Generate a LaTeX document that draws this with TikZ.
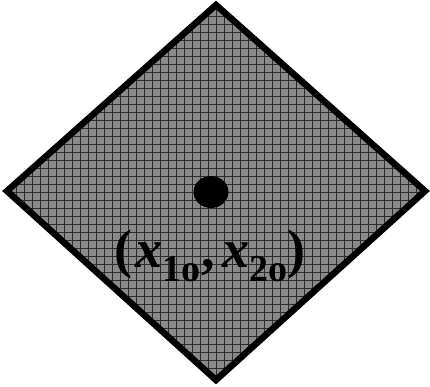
\documentclass[tikz,border=0pt]{standalone}
\usepackage{fontspec}
\setmainfont{Liberation Serif}
\usetikzlibrary{shapes.geometric}
\definecolor{regiongray}{RGB}{138,138,138}
\definecolor{meshgray}{RGB}{45,45,45}
\newcommand{\subidx}[1]{\raisebox{-14pt}{\fontsize{38}{38}\selectfont\bfseries #1}}
\begin{document}
\begin{tikzpicture}[x=1pt,y=-1pt,
  mesh/.style={meshgray,line width=1pt},
  border/.style={draw=black,line width=6.5pt,line join=miter},
  pointdot/.style={ellipse,fill=black,inner sep=0pt,minimum width=35pt,minimum height=32pt}]
  \useasboundingbox (0,0) rectangle (430,386);
  % Corners of the region
  \coordinate (top) at (216,5);
  \coordinate (right) at (425,191);
  \coordinate (bottom) at (216,380);
  \coordinate (left) at (7,191);
  % Shaded region with mesh
  \fill[regiongray] (top) -- (right) -- (bottom) -- (left) -- cycle;
  \begin{scope}
    \clip (top) -- (right) -- (bottom) -- (left) -- cycle;
    \foreach \i in {0,8,...,432} \draw[mesh] (\i,0) -- (\i,386);
    \foreach \j in {0,8,...,384} \draw[mesh] (0,\j) -- (430,\j);
  \end{scope}
  \draw[border] (top) -- (right) -- (bottom) -- (left) -- cycle;
  % Point and its label
  \node[pointdot] (pt) at (211,192) {};
  \node[anchor=base,inner sep=0pt,font=\fontsize{54}{54}\selectfont\bfseries] (lbl) at (210,267)
    {(\hspace{3pt}\textit{x}\subidx{1o}\hspace{1pt},\hspace{7pt}\textit{x}\subidx{2o})};
\end{tikzpicture}
\end{document}
